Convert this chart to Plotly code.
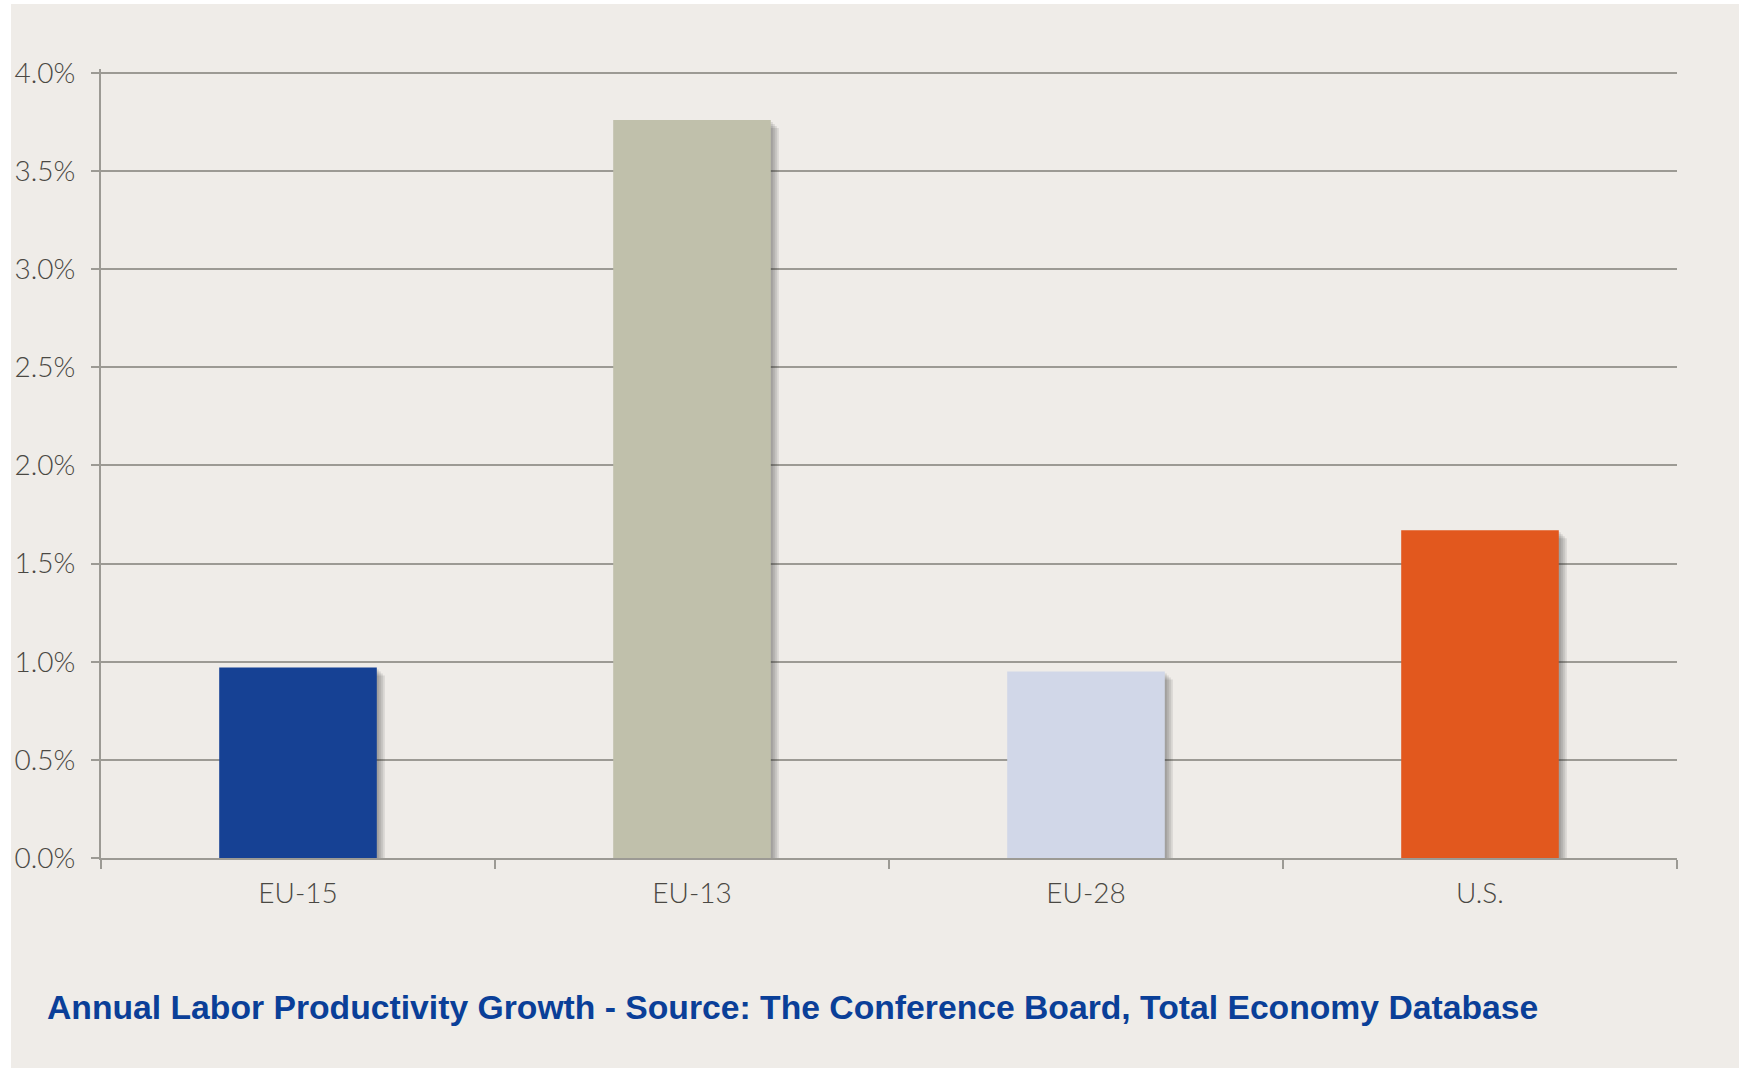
import plotly.graph_objects as go

# Annual labor productivity growth by region (percent)
regions = ["EU-15", "EU-13", "EU-28", "U.S."]
growth = [0.97, 3.76, 0.95, 1.67]
bar_colors = ["#164194", "#c0c0ab", "#d1d7e8", "#e2581e"]
y_ticks = [0.0, 0.5, 1.0, 1.5, 2.0, 2.5, 3.0, 3.5, 4.0]
y_tick_labels = ["0.0%", "0.5%", "1.0%", "1.5%", "2.0%", "2.5%", "3.0%", "3.5%", "4.0%"]
caption = "Annual Labor Productivity Growth - Source: The Conference Board, Total Economy Database"

W, H = 1743, 1069
Y_MAX = 4.02                 # a little headroom so the 4.0% gridline is drawn
ZERO_PX, TOP_TICK_PX = 858, 73
px_per_unit_y = (ZERO_PX - TOP_TICK_PX) / 4.0
M_L, M_R = 101, 66
M_B = H - ZERO_PX
M_T = round(ZERO_PX - Y_MAX * px_per_unit_y)
plot_w = W - M_L - M_R
plot_h = H - M_T - M_B
BAR_W = 0.4

px_x = 1.0 / (plot_w / len(regions))   # category units per pixel
px_y = Y_MAX / plot_h                  # value units per pixel

fig = go.Figure()

# soft drop shadow behind each bar, built from a few translucent layers
for step in (2, 4, 6, 8):
    fig.add_trace(go.Bar(
        x=regions, y=growth,
        base=-step * px_y,
        width=BAR_W,
        offset=-BAR_W / 2 + step * px_x,
        marker=dict(color="rgba(40,40,40,0.11)", line=dict(width=0)),
        hoverinfo="skip", showlegend=False,
    ))

fig.add_trace(go.Bar(
    x=regions, y=growth,
    width=BAR_W,
    marker=dict(color=bar_colors, line=dict(width=0)),
    hoverinfo="skip", showlegend=False,
))

tick_font = dict(family="Lato, 'Open Sans', sans-serif", size=28, color="#4a4843", weight=300)
axis_gray = "#9c9a94"

def paper_x(px):
    return (px - M_L) / plot_w

def paper_y(px):
    return (H - M_B - px) / plot_h

fig.update_layout(
    width=W, height=H,
    margin=dict(l=M_L, r=M_R, t=M_T, b=M_B, pad=0),
    paper_bgcolor="#ffffff",
    plot_bgcolor="rgba(0,0,0,0)",
    barmode="overlay",
    font=tick_font,
    shapes=[dict(
        type="rect", xref="paper", yref="paper", layer="below",
        x0=paper_x(11), x1=paper_x(1739),
        y0=paper_y(1068), y1=paper_y(4),
        fillcolor="#efece8", line=dict(width=0),
    )],
    annotations=[dict(
        text=caption, xref="paper", yref="paper",
        x=paper_x(45), y=paper_y(1007),
        xanchor="left", yanchor="middle", showarrow=False,
        font=dict(family="'Liberation Sans Narrow', 'Liberation Sans', Arial, sans-serif",
                  size=33.7, color="#0a3f98", weight="bold"),
    )],
)

fig.update_xaxes(
    type="category",
    tickson="boundaries",
    ticks="outside", ticklen=9, tickwidth=2, tickcolor=axis_gray,
    showline=True, linecolor=axis_gray, linewidth=2,
    showgrid=False, zeroline=False,
    tickfont=tick_font,
    ticklabelstandoff=9,
)

fig.update_yaxes(
    range=[0, Y_MAX],
    tickvals=y_ticks, ticktext=y_tick_labels,
    ticks="outside", ticklen=8, tickwidth=2, tickcolor=axis_gray,
    showline=True, linecolor=axis_gray, linewidth=2,
    showgrid=True, gridcolor=axis_gray, gridwidth=2,
    zeroline=False,
    tickfont=tick_font,
    ticklabelstandoff=10,
)

fig.write_html("out.html")
